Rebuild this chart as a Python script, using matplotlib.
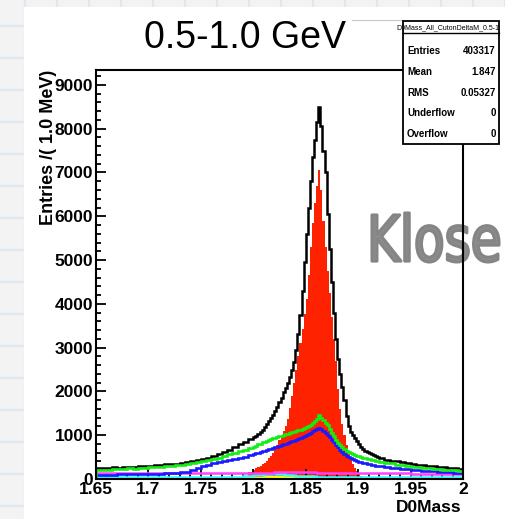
import numpy as np
import matplotlib
matplotlib.use("Agg")
import matplotlib.pyplot as plt
from matplotlib.patches import Rectangle, PathPatch
from matplotlib.lines import Line2D
from matplotlib.textpath import TextPath
from matplotlib.font_manager import FontProperties
from matplotlib.transforms import Affine2D, Bbox, TransformedBbox

W, H = 506, 519
FONT = "Liberation Sans"

# bin edges: 5 MeV in the tails, 2 MeV around the peak
edges = np.concatenate([np.linspace(1.65, 1.80, 31)[:-1],
                        np.linspace(1.80, 1.92, 61)[:-1],
                        np.linspace(1.92, 2.00, 17)])
coarse_edges = np.linspace(1.65, 2.00, 36)

# ---- data ----
black_lo = [240, 255, 250, 265, 262, 275, 280, 278, 292, 300,
            305, 315, 320, 335, 340, 352, 365, 380, 400, 425,
            450, 485, 525, 570, 615, 670, 725, 790, 850, 910]
black_mid = [950, 990, 1030, 1080, 1130, 1190, 1260, 1330, 1400, 1470,
             1550, 1640, 1750, 1860, 1980, 2080, 2200, 2340, 2480, 2680,
             2950, 3300, 3750, 4300, 4950, 5600, 6200, 6800, 7350, 7750,
             8150, 8500, 8050, 7500, 7000, 6050, 5250, 4500, 3800, 3200,
             2750, 2400, 2100, 1800, 1450, 1200, 1080, 1000, 930, 860,
             800, 740, 690, 650, 610, 590, 565, 545, 525, 505]
black_hi = [470, 440, 420, 400, 380, 365, 350, 330,
            318, 305, 290, 280, 265, 255, 245, 235]

green_lo = [200, 210, 205, 218, 222, 230, 240, 238, 252, 262,
            270, 278, 285, 298, 305, 315, 330, 342, 360, 378,
            400, 425, 455, 490, 520, 560, 600, 630, 665, 705]
green_mid = [720, 760, 790, 810, 835, 850, 870, 890, 905, 930,
             945, 960, 975, 990, 1005, 1020, 1035, 1050, 1065, 1080,
             1100, 1115, 1130, 1150, 1170, 1190, 1215, 1240, 1280, 1320,
             1380, 1460, 1390, 1340, 1290, 1230, 1150, 1060, 980, 900,
             830, 770, 720, 680, 645, 615, 590, 570, 550, 535,
             515, 500, 490, 478, 465, 455, 445, 432, 422, 412]
green_hi = [395, 375, 355, 330, 310, 295, 282, 270,
            258, 245, 235, 225, 212, 202, 195, 185]

blue_lo = [95, 100, 98, 102, 105, 104, 108, 110, 112, 115,
           118, 120, 125, 128, 135, 142, 150, 165, 195, 240,
           290, 330, 365, 395, 420, 440, 460, 480, 510, 550]
blue_mid = [570, 590, 605, 620, 635, 650, 665, 680, 695, 710,
            725, 740, 755, 775, 790, 805, 822, 840, 858, 875,
            895, 915, 935, 955, 978, 1000, 1030, 1060, 1090, 1120,
            1145, 1160, 1140, 1100, 1060, 1010, 960, 900, 840, 780,
            720, 660, 610, 565, 530, 500, 475, 450, 430, 412,
            395, 380, 368, 355, 345, 335, 325, 315, 305, 298]
blue_hi = [288, 275, 258, 245, 232, 220, 210, 200,
           192, 183, 175, 168, 160, 153, 147, 140]

red_lo = [0, 0, 0, 0, 0, 0, 0, 0, 0, 0,
          0, 0, 0, 0, 0, 0, 0, 0, 0, 0,
          0, 0, 0, 0, 0, 0, 8, 25, 60, 150]
red_mid = [215, 240, 270, 300, 335, 375, 420, 470, 530, 600,
           680, 780, 880, 990, 1100, 1220, 1380, 1620, 1900, 2200,
           2500, 2800, 3100, 3420, 3760, 4100, 4650, 5300, 5850, 6300,
           6700, 7050, 6600, 5900, 5300, 4750, 4250, 3700, 3200, 2700,
           2050, 1600, 1250, 1000, 780, 580, 450, 340, 250, 190,
           130, 70, 30, 10, 0, 0, 0, 0, 0, 0]
red_hi = [0] * 16

magenta = [128, 132, 130, 135, 133, 137, 135, 138, 136, 140,
           138, 141, 139, 142, 140, 144, 146, 150, 155, 160,
           152, 146, 142, 140, 138, 135, 133, 130, 128, 126,
           124, 122, 120, 118, 115]
cyan = [42, 44, 43, 45, 44, 46, 45, 47, 46, 48,
        47, 49, 50, 55, 65, 85, 110, 120, 90, 70,
        58, 52, 50, 48, 47, 46, 45, 45, 44, 43,
        43, 42, 42, 41, 40]
yellow = [12, 13, 12, 14, 13, 14, 15, 15, 16, 16,
          17, 18, 19, 22, 26, 32, 45, 52, 38, 28,
          22, 19, 17, 16, 15, 15, 14, 14, 13, 13,
          12, 12, 12, 11, 11]

xticks = [1.65, 1.7, 1.75, 1.8, 1.85, 1.9, 1.95, 2.0]
xticklabels = ["1.65", "1.7", "1.75", "1.8", "1.85", "1.9", "1.95", "2"]
yticks = [0, 1000, 2000, 3000, 4000, 5000, 6000, 7000, 8000, 9000]

stats_names = ["Entries", "Mean", "RMS", "Underflow", "Overflow"]
stats_vals = ["403317", "1.847", "0.05327", "0", "0"]


def fx(px):
    return px / W


def fy(py):
    return 1 - py / H


fig = plt.figure(figsize=(W / 100, H / 100), dpi=100)
fig.patch.set_facecolor("#f3f3f4")

# slide background grid + white canvas
for k in range(17):
    fig.add_artist(Line2D([0, 1], [fy(26 + 32 * k)] * 2, color="#dde8f1", lw=1.6, zorder=-3))
    fig.add_artist(Line2D([fx(25 + 32 * k)] * 2, [0, 1], color="#dde8f1", lw=1.6, zorder=-3))
fig.add_artist(Rectangle((fx(24), 0), fx(505) - fx(24), fy(7), transform=fig.transFigure,
                         facecolor="white", edgecolor="none", zorder=-2))
fig.add_artist(Line2D([fx(352), fx(403)], [fy(20)] * 2, color="#c8c8c8", lw=0.8, zorder=1))

ax = fig.add_axes([fx(96), fy(479), fx(463) - fx(96), fy(70) - fy(479)])
ax.set_xlim(1.65, 2.0)
ax.set_ylim(0, 9340)

black = np.array(black_lo + black_mid + black_hi)
green = np.array(green_lo + green_mid + green_hi)
blue = np.array(blue_lo + blue_mid + blue_hi)
red = np.array(red_lo + red_mid + red_hi)

ax.fill_between(edges, np.append(red, red[-1]), step="post", color="#ff2200",
                lw=0, zorder=1.5)
ax.stairs(black, edges, color="black", lw=1.8, zorder=2)
ax.stairs(yellow, coarse_edges, color="#ffff00", lw=1.5, zorder=2)
ax.stairs(cyan, coarse_edges, color="#33ffff", lw=1.8, zorder=2)
ax.stairs(magenta, coarse_edges, color="#ff40ff", lw=1.8, zorder=2)
ax.stairs(blue, edges, color="#1a1aff", lw=1.9, zorder=2)
ax.stairs(green, edges, color="#11ee11", lw=1.9, zorder=2)

for s in ax.spines.values():
    s.set_linewidth(1.5)
ax.set_xticks(xticks)
ax.set_xticklabels(xticklabels)
ax.set_yticks(yticks)
ax.set_xticks(np.arange(1.65, 2.0001, 0.01), minor=True)
ax.set_yticks(np.arange(0, 9341, 200), minor=True)
ax.tick_params(which="both", direction="in", top=False, right=False, width=1.3)
ax.tick_params(which="major", length=7.2, pad=2, labelsize=12.5)
ax.tick_params(which="minor", length=3.6)
for lab in ax.get_xticklabels() + ax.get_yticklabels():
    lab.set_fontfamily(FONT)
    lab.set_fontweight("bold")

# watermark text, stretched to its box
tp = TextPath((0, 0), "Klose", size=100, prop=FontProperties(family="DejaVu Sans", weight="normal"))
bb = tp.get_extents()
tr = (Affine2D().translate(-bb.x0, -bb.y0)
      .scale((fx(499) - fx(372)) / bb.width, (fy(213) - fy(262)) / bb.height)
      .translate(fx(372), fy(262)))
ax.add_patch(PathPatch(tp, transform=tr + fig.transFigure, facecolor="#8c8c8c",
                       edgecolor="#858585", lw=2.2, joinstyle="round", capstyle="round",
                       zorder=2.4, clip_on=False))

# titles
fig.text(fx(245.5), fy(38.5), "0.5-1.0 GeV", family=FONT, fontsize=27, ha="center", va="center")
fig.text(fx(49), fy(70), "Entries /( 1.0 MeV)", family=FONT, weight="bold", fontsize=13,
         rotation=90, ha="center", va="top")
fig.text(fx(462), fy(508), "D0Mass", family=FONT, weight="bold", fontsize=12.5, ha="right", va="center")

# stats box
fig.add_artist(Rectangle((fx(403), fy(144)), fx(499) - fx(403), fy(21) - fy(144),
                         transform=fig.transFigure, facecolor="white", edgecolor="black",
                         lw=1.3, zorder=5))
fig.add_artist(Line2D([fx(403), fx(499)], [fy(33)] * 2, color="black", lw=1.0, zorder=6))
t = fig.text(fx(451), fy(27.5), "D0Mass_All_CutonDeltaM_0.5-1.0", family=FONT, fontsize=5,
             ha="center", va="center", zorder=6)
t.set_clip_box(TransformedBbox(Bbox([[fx(390), fy(33)], [fx(498), fy(21)]]), fig.transFigure))
t.set_clip_on(True)
for i, (n, v) in enumerate(zip(stats_names, stats_vals)):
    yy = fy(51.5 + 20.6 * i)
    fig.text(fx(407), yy, n, family=FONT, weight="bold", fontsize=7, ha="left", va="center", zorder=6)
    fig.text(fx(496), yy, v, family=FONT, weight="bold", fontsize=7, ha="right", va="center", zorder=6)

fig.savefig("out.png", dpi=100)
